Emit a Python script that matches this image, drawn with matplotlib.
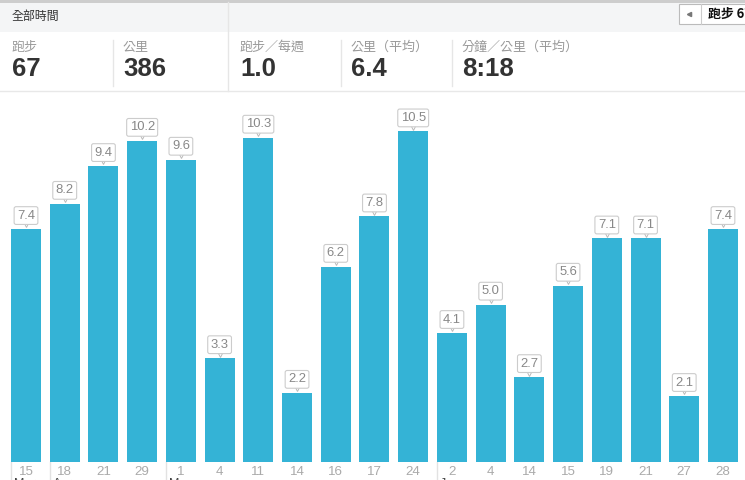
import matplotlib.pyplot as plt
from matplotlib.patches import Rectangle
from matplotlib.transforms import offset_copy

# data
days = ["15", "18", "21", "29", "1", "4", "11", "14", "16", "17", "24",
        "2", "4", "14", "15", "19", "21", "27", "28"]
km = [7.4, 8.2, 9.4, 10.2, 9.6, 3.3, 10.3, 2.2, 6.2, 7.8, 10.5,
      4.1, 5.0, 2.7, 5.6, 7.1, 7.1, 2.1, 7.4]
month_start = [0, 1, 4, 11]
month_names = ["Mar", "Apr", "May", "Jun"]

stat_labels = ["跑步", "公里", "跑步／每週", "公里（平均）", "分鐘／公里（平均）"]
stat_values = ["67", "386", "1.0", "6.4", "8:18"]

W, H = 745, 480
CJK = ["Noto Sans CJK TC", "DejaVu Sans"]
NUM = ["Liberation Sans", "DejaVu Sans"]
BLUE = "#34b3d6"

fig = plt.figure(figsize=(W / 100, H / 100), dpi=100)

# overlay in pixel coords for header
ov = fig.add_axes([0, 0, 1, 1])
ov.set_xlim(0, W)
ov.set_ylim(H, 0)
ov.axis("off")
ov.patch.set_alpha(0)

ov.add_patch(Rectangle((0, 2), W, 30, fc="#f4f5f6", ec="none"))
ov.add_patch(Rectangle((0, 0), W, 2.5, fc="#cdcdcd", ec="none"))
ov.plot([228, 228], [2, 91], color="#e6e6e6", lw=1)
ov.plot([0, W], [91, 91], color="#e8e8e8", lw=1)
for xs in [113, 341, 452]:
    ov.plot([xs, xs], [40, 86], color="#e6e6e6", lw=1)

ov.text(12, 16, "全部時間", family=CJK, fontsize=8.6, color="#333333", va="center")

# button at top right
ov.add_patch(Rectangle((678.5, 3.5), 80, 20.5, fc="white", ec="#bbbbbb", lw=0.8))
ov.plot([700.5, 700.5], [3.5, 24], color="#cccccc", lw=0.8)
ov.plot([689], [13.5], marker="<", ms=3, color="#777777")
ov.text(708, 14, "跑步 67", family=CJK, fontsize=9.3, weight="bold", color="#111111", va="center")

stat_x = [12, 123, 240, 351, 462]
for x, lab, val in zip(stat_x, stat_labels, stat_values):
    ov.text(x, 47, lab, family=CJK, fontsize=9.4, color="#9a9a9a", va="center")
    ov.text(x, 69, val, family=NUM, fontsize=18.5, weight="bold", color="#333333", va="center")

# bar chart
pitch = 38.72
x0 = 26
ax_bottom = 462
top = 92
scale = 31.5
ax = fig.add_axes([0, (H - ax_bottom) / H, 1, (ax_bottom - top) / H])
ax.set_xlim(-x0 / pitch, (W - x0) / pitch)
ax.set_ylim(0, (ax_bottom - top) / scale)
ax.patch.set_alpha(0)
for s in ax.spines.values():
    s.set_visible(False)
ax.set_yticks([])

xs = list(range(len(km)))
ax.bar(xs, km, width=0.775, color=BLUE)
ax.set_xticks(xs)
ax.set_xticklabels(days, family=NUM, fontsize=9.6, color="#aaaaaa")
ax.tick_params(axis="x", length=0, pad=3)

chev = offset_copy(ax.transData, fig=fig, x=0, y=3.2, units="points")
for x, v in zip(xs, km):
    ax.annotate(f"{v:.1f}", (x, v), xytext=(0, 9.6), textcoords="offset points",
                ha="center", va="center", family=NUM, fontsize=9.4, color="#888888",
                bbox=dict(boxstyle="round,pad=0.22,rounding_size=0.15", fc="white",
                          ec="#cccccc", lw=0.8))
    ax.plot([x], [v], marker="v", ms=4.5, mfc="white", mec="#bbbbbb", mew=0.7,
            transform=chev, clip_on=False)

# month boundaries and (cut-off) month labels
for i, name in zip(month_start, month_names):
    bx = x0 + (i - 0.3875) * pitch
    ov.plot([bx, bx], [462, H], color="#e2e2e2", lw=1)
    ov.text(bx + 3, 478, name, family=NUM, fontsize=9, color="#444444", va="top")

fig.savefig("out.png", dpi=100)
